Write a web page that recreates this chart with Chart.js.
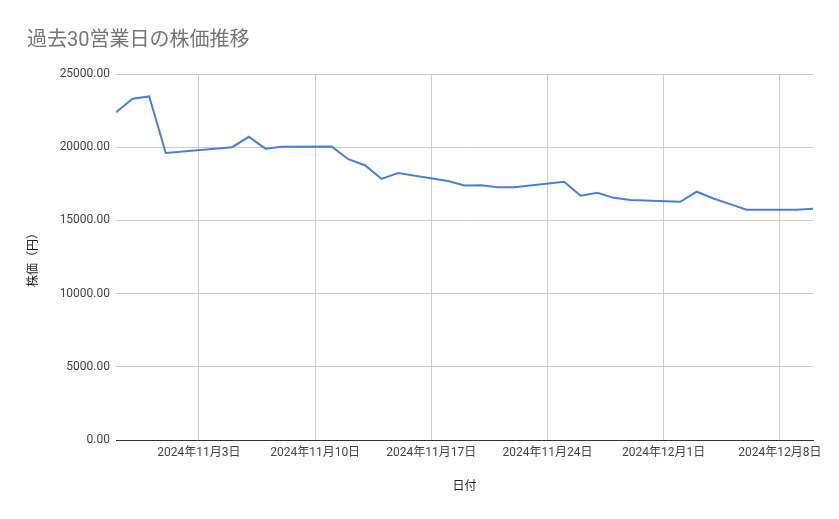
<!DOCTYPE html>
<html>
<head>
<meta charset="utf-8">
<script src="https://cdn.jsdelivr.net/npm/chart.js@4"></script>
<style>
  html, body { margin: 0; padding: 0; background: #fff; }
  #wrap { width: 839px; height: 519px; }
</style>
</head>
<body>
<div id="wrap"><canvas id="c" width="839" height="519"></canvas></div>
<script>
const dates = [
  '2024-10-29','2024-10-30','2024-10-31','2024-11-01','2024-11-05','2024-11-06','2024-11-07','2024-11-08',
  '2024-11-11','2024-11-12','2024-11-13','2024-11-14','2024-11-15','2024-11-18','2024-11-19','2024-11-20',
  '2024-11-21','2024-11-22','2024-11-25','2024-11-26','2024-11-27','2024-11-28','2024-11-29','2024-12-02',
  '2024-12-03','2024-12-04','2024-12-05','2024-12-06','2024-12-09','2024-12-10'
];
const prices = [
  22390, 23310, 23470, 19600, 20000, 20710, 19900, 20030,
  20040, 19180, 18770, 17840, 18240, 17690, 17380, 17400,
  17260, 17260, 17640, 16690, 16880, 16540, 16390, 16270,
  16960, 16500, 16110, 15730, 15730, 15800
];
const xTickDates = ['2024-11-03','2024-11-10','2024-11-17','2024-11-24','2024-12-01','2024-12-08'];
const yTicks = [0, 5000, 10000, 15000, 20000, 25000];
const chartTitle = '過去30営業日の株価推移';
const xTitle = '日付';
const yTitle = '株価（円）';

const dayNum = s => Date.UTC(+s.slice(0,4), +s.slice(5,7) - 1, +s.slice(8,10)) / 86400000;
const fmtDay = n => { const d = new Date(n * 86400000); return d.getUTCFullYear() + '年' + (d.getUTCMonth() + 1) + '月' + d.getUTCDate() + '日'; };

const points = dates.map((d, i) => ({ x: dayNum(d), y: prices[i] }));
const xTickVals = xTickDates.map(dayNum);

const FONT = "Roboto, 'Noto Sans CJK JP', sans-serif";

new Chart(document.getElementById('c'), {
  type: 'line',
  data: {
    datasets: [{
      data: points,
      borderColor: '#4a7fd9',
      borderWidth: 2,
      pointRadius: 0,
      tension: 0,
      fill: false
    }]
  },
  options: {
    responsive: false,
    animation: false,
    layout: { padding: { left: 27, right: 26, top: 29, bottom: 0 } },
    plugins: {
      legend: { display: false },
      tooltip: { enabled: false },
      title: {
        display: true,
        text: chartTitle,
        align: 'start',
        color: '#757575',
        font: { family: FONT, size: 20, weight: 'normal' },
        padding: { top: 0, bottom: 21 }
      }
    },
    scales: {
      x: {
        type: 'linear',
        min: dayNum(dates[0]),
        max: dayNum(dates[dates.length - 1]),
        afterBuildTicks: s => { s.ticks = xTickVals.map(v => ({ value: v })); },
        afterFit: s => { s.height = 79; },
        ticks: {
          callback: v => fmtDay(v),
          color: '#444',
          font: { family: FONT, size: 12 },
          maxRotation: 0,
          autoSkip: false,
          padding: 6
        },
        grid: { color: '#cccccc', drawTicks: false, lineWidth: 1 },
        border: { display: true, color: '#333333', width: 1 },
        title: {
          display: true,
          text: xTitle,
          color: '#222',
          font: { family: FONT, size: 12 },
          padding: { top: 0, bottom: 25 }
        }
      },
      y: {
        min: 0,
        max: 25000,
        afterBuildTicks: s => { s.ticks = yTicks.map(v => ({ value: v })); },
        afterFit: s => { s.width = 89; },
        ticks: {
          callback: v => Number(v).toFixed(2),
          color: '#444',
          font: { family: FONT, size: 12 },
          padding: 6
        },
        grid: { color: '#cccccc', drawTicks: false, lineWidth: 1 },
        border: { display: false },
        title: {
          display: true,
          text: yTitle,
          color: '#222',
          font: { family: FONT, size: 12 },
          padding: { top: 0, bottom: 0 }
        }
      }
    }
  }
});
</script>
</body>
</html>
